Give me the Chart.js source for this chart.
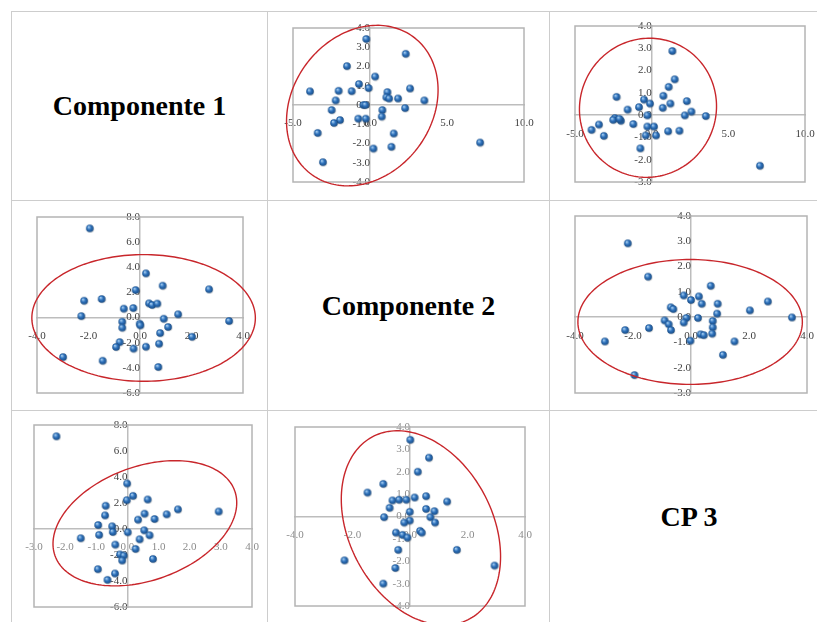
<!DOCTYPE html>
<html>
<head>
<meta charset="utf-8">
<script src="https://cdn.jsdelivr.net/npm/chart.js@4.4.1/dist/chart.umd.min.js"></script>
<style>
  html, body { margin: 0; padding: 0; background: #fff; overflow: hidden; }
  body { width: 817px; height: 622px; position: relative; }
  .cell { position: absolute; box-sizing: border-box; border: 1px solid #cdcdcd; }
  .name { display: flex; align-items: center; justify-content: center;
          font-family: 'Liberation Serif', 'Times New Roman', serif; font-weight: bold; font-size: 28px; color: #000; }
  canvas { position: absolute; }
</style>
</head>
<body>
<div class="cell name" style="left:11px;top:11px;width:257px;height:190px;">Componente 1</div>
<div class="cell" style="left:267px;top:11px;width:283px;height:190px;"></div>
<div class="cell" style="left:549px;top:11px;width:290px;height:190px;"></div>
<div class="cell" style="left:11px;top:200px;width:257px;height:211px;"></div>
<div class="cell name" style="left:267px;top:200px;width:283px;height:211px;">Componente 2</div>
<div class="cell" style="left:549px;top:200px;width:290px;height:211px;"></div>
<div class="cell" style="left:11px;top:410px;width:257px;height:230px;"></div>
<div class="cell" style="left:267px;top:410px;width:283px;height:230px;"></div>
<div class="cell name" style="left:549px;top:410px;width:280px;height:230px;padding-bottom:16px;">CP 3</div>

<canvas id="c12" width="282" height="189" style="left:267px;top:11px;"></canvas>
<canvas id="c13" width="280" height="189" style="left:549px;top:11px;"></canvas>
<canvas id="c21" width="256" height="210" style="left:11px;top:200px;"></canvas>
<canvas id="c23" width="280" height="210" style="left:549px;top:200px;"></canvas>
<canvas id="c31" width="256" height="212" style="left:11px;top:410px;"></canvas>
<canvas id="c32" width="282" height="212" style="left:267px;top:410px;"></canvas>

<script>
// Componente 1 (x) vs Componente 2 (y)
const p12x = [-0.24, 2.32, -1.50, 0.33, -0.72, -0.09, -3.90, -2.04, -1.19, 2.60, 1.13, 1.06, 1.24, 1.82, 3.53, -2.23, -0.43, -0.30, -2.49, 0.80, 2.28, -1.95, -2.34, -0.76, -0.28, 0.76, -3.40, 1.54, 1.39, 0.22, -3.06, 7.15];
const p12y = [3.43, 2.66, 2.02, 1.48, 1.09, 0.88, 0.71, 0.74, 0.72, 0.86, 0.67, 0.40, 0.34, 0.34, 0.24, 0.24, 0.00, 0.00, -0.26, -0.26, -0.16, -0.78, -0.93, -0.71, -0.71, -0.60, -1.45, -1.48, -2.17, -2.26, -2.97, -1.95];
// Componente 1 (x) vs CP 3 (y)
const p13x = [1.35, 1.50, 1.11, -2.29, 0.76, -0.50, -0.11, 1.22, 2.29, -0.83, -1.57, 0.72, 2.59, -0.28, 2.16, 3.53, -2.40, -2.51, -2.01, -2.11, -3.44, -3.92, -3.12, -1.20, -0.28, 0.15, -0.39, 0.28, 1.07, 1.81, -0.74, 7.06];
const p13y = [2.88, 1.61, 1.27, 0.82, 0.87, 0.70, 0.52, 0.52, 0.63, 0.36, 0.25, 0.33, 0.16, -0.01, -0.01, -0.04, -0.13, -0.21, -0.25, -0.16, -0.42, -0.66, -0.93, -0.40, -0.51, -0.51, -0.91, -0.91, -0.72, -0.70, -1.49, -2.27];
// Componente 2 (x) vs Componente 1 (y)
const p21x = [-1.95, 0.23, 0.88, 2.68, -0.17, -2.17, -1.49, 0.35, 0.47, 0.67, -0.63, -0.26, -2.28, 1.48, 0.92, 3.46, -0.69, -0.01, 0.01, -0.69, 1.09, 0.78, 2.02, -0.79, -0.93, -0.25, 0.23, 0.74, -2.99, -1.45, 0.71];
const p21y = [7.10, 3.52, 2.54, 2.25, 2.19, 1.34, 1.48, 1.13, 1.00, 1.11, 0.71, 0.76, 0.12, 0.26, -0.09, -0.27, -0.33, -0.49, -0.62, -0.80, -0.75, -1.23, -1.53, -1.95, -2.34, -2.47, -2.32, -2.08, -3.14, -3.43, -3.93];
// Componente 2 (x) vs CP 3 (y)
const p23x = [-2.18, -1.48, 0.68, -0.25, 0.27, 0.00, 0.37, 0.92, 2.65, -0.70, -0.61, 2.03, 0.90, 3.48, -0.16, 0.24, -0.91, -0.77, -0.25, 0.75, -0.69, 0.75, -1.45, -2.27, 0.33, 0.44, 0.73, -2.97, -0.02, 1.50, 1.10, -1.95];
const p23y = [2.92, 1.60, 1.24, 0.86, 0.82, 0.68, 0.53, 0.53, 0.62, 0.39, 0.32, 0.27, 0.14, -0.01, -0.03, -0.03, -0.13, -0.28, -0.21, -0.15, -0.51, -0.40, -0.43, -0.51, -0.68, -0.71, -0.65, -0.96, -0.93, -0.96, -1.49, -2.29];
// CP 3 (x) vs Componente 1 (y)
const p31x = [-2.28, -0.01, 0.18, 0.65, -0.02, -0.70, 1.62, 2.93, 1.26, 0.55, -0.72, 0.34, 0.87, -0.94, -0.49, -0.47, 0.01, 0.54, -1.50, -0.91, 0.71, 0.39, -0.39, 0.26, -0.24, -0.12, -0.17, 0.82, -0.95, -0.40, -0.64];
const p31y = [7.13, 3.50, 2.55, 2.27, 2.22, 1.79, 1.51, 1.35, 1.13, 1.18, 1.05, 0.72, 0.77, 0.31, 0.21, -0.23, -0.25, -0.10, -0.71, -0.45, -0.48, -0.79, -1.20, -1.53, -1.96, -2.04, -2.42, -2.30, -3.09, -3.42, -3.91];
// CP 3 (x) vs Componente 2 (y)
const p32x = [0.01, 0.66, 0.27, -0.93, -1.48, -0.61, -0.38, -0.13, 0.16, 0.56, 1.29, -0.71, 0.56, 0.85, -0.01, -0.90, 0.71, -0.01, -0.20, 0.87, -0.49, -0.26, -0.09, 0.35, 0.41, -0.41, 1.63, -2.28, -0.51, 2.94, -0.93];
const p32y = [3.43, 2.63, 2.00, 1.46, 1.07, 0.72, 0.75, 0.75, 0.85, 0.91, 0.67, 0.39, 0.34, 0.24, 0.21, -0.03, -0.03, -0.18, -0.27, -0.27, -0.72, -0.82, -0.94, -0.64, -0.72, -1.49, -1.49, -1.96, -2.30, -2.19, -3.00];

// axis ranges: [min, max, step]
const r12 = { x: [-5, 10, 5], y: [-4, 4, 1] };
const r13 = { x: [-5, 10, 5], y: [-3, 4, 1] };
const r21 = { x: [-4, 4, 2], y: [-6, 8, 2] };
const r23 = { x: [-4, 4, 2], y: [-3, 4, 1] };
const r31 = { x: [-3, 4, 1], y: [-6, 8, 2] };
const r32 = { x: [-4, 4, 2], y: [-4, 4, 1] };

// confidence ellipses in data units: [cx, cy, ax, ay, bx, by] (two conjugate half-axes)
const e12 = [-0.50, -0.03, 4.92, 0.81, 0, 4.09];
const e13 = [-0.24, 0.33, 4.47, 0.07, 0, 3.12];
const e21 = [0.14, -0.03, 4.34, 0, 0, 5.04];
const e23 = [-0.03, -0.19, 3.87, 0, 0, 2.47];
const e31 = [0.56, 0.44, 2.95, 1.58, 0, 4.55];
const e32 = [0.38, -0.51, 2.77, -1.28, 0, 4.15];

// small shaded ball used as point marker
const ball = document.createElement('canvas');
ball.width = 10; ball.height = 10;
(function () {
  const g = ball.getContext('2d');
  g.fillStyle = 'rgba(0,0,0,0.16)';
  g.beginPath(); g.arc(5.6, 5.7, 3.8, 0, Math.PI * 2); g.fill();
  const grad = g.createRadialGradient(3.8, 3.6, 0.4, 5, 5, 4);
  grad.addColorStop(0, '#a3cbef');
  grad.addColorStop(0.45, '#2e72bd');
  grad.addColorStop(1, '#18497f');
  g.fillStyle = grad;
  g.beginPath(); g.arc(5, 5, 3.8, 0, Math.PI * 2); g.fill();
})();

const framePlugin = {
  id: 'frame',
  beforeDatasetsDraw(chart) {
    const a = chart.chartArea, ctx = chart.ctx;
    ctx.save();
    ctx.strokeStyle = '#b4b4b4';
    ctx.lineWidth = 1.5;
    ctx.strokeRect(a.left, a.top, a.right - a.left, a.bottom - a.top);
    ctx.restore();
  }
};

const ellipsePlugin = {
  id: 'ellipse',
  afterDatasetsDraw(chart, args, opts) {
    const e = opts.shape;
    if (!e) return;
    const sx = chart.scales.x, sy = chart.scales.y, ctx = chart.ctx;
    ctx.save();
    ctx.strokeStyle = '#c8262b';
    ctx.lineWidth = 1.4;
    ctx.beginPath();
    for (let i = 0; i <= 180; i++) {
      const t = i / 180 * Math.PI * 2;
      const px = sx.getPixelForValue(e[0] + e[2] * Math.cos(t) + e[4] * Math.sin(t));
      const py = sy.getPixelForValue(e[1] + e[3] * Math.cos(t) + e[5] * Math.sin(t));
      if (i === 0) ctx.moveTo(px, py); else ctx.lineTo(px, py);
    }
    ctx.stroke();
    ctx.restore();
  }
};

function axis(r, pos, color, pad) {
  return {
    type: 'linear',
    min: r[0], max: r[1],
    position: pos,
    grid: { display: false },
    border: { display: true, color: '#bdbdbd', width: 1.5 },
    ticks: {
      stepSize: r[2], autoSkip: false, maxRotation: 0, padding: pad,
      color: color,
      font: { family: "'Liberation Serif', 'Times New Roman', serif", size: 11 },
      callback: v => v.toFixed(1)
    }
  };
}

function panel(id, xs, ys, r, ell, padding, xColor, yColor) {
  new Chart(document.getElementById(id), {
    type: 'scatter',
    data: {
      datasets: [{
        data: xs.map((v, i) => ({ x: v, y: ys[i] })),
        pointStyle: ball,
        pointRadius: 4,
        pointHoverRadius: 4
      }]
    },
    options: {
      responsive: false,
      animation: false,
      layout: { padding: padding },
      scales: {
        x: axis(r.x, { y: 0 }, xColor, 4),
        y: axis(r.y, { x: 0 }, yColor, 6)
      },
      plugins: {
        legend: { display: false },
        tooltip: { enabled: false },
        ellipse: { shape: ell }
      }
    },
    plugins: [framePlugin, ellipsePlugin]
  });
}

const dark = '#3f3f3f', light = '#8c8c8c';
panel('c12', p12x, p12y, r12, e12, { left: 26, top: 17, right: 25, bottom: 18 }, dark, dark);
panel('c13', p13x, p13y, r13, e13, { left: 26, top: 15, right: 24, bottom: 18 }, dark, dark);
panel('c21', p21x, p21y, r21, e21, { left: 26, top: 17, right: 24, bottom: 17 }, dark, dark);
panel('c23', p23x, p23y, r23, e23, { left: 26, top: 16, right: 22, bottom: 17 }, dark, dark);
panel('c31', p31x, p31y, r31, e31, { left: 23, top: 15, right: 15, bottom: 15 }, light, dark);
panel('c32', p32x, p32y, r32, e32, { left: 28, top: 17, right: 24, bottom: 16 }, light, light);
</script>
</body>
</html>
